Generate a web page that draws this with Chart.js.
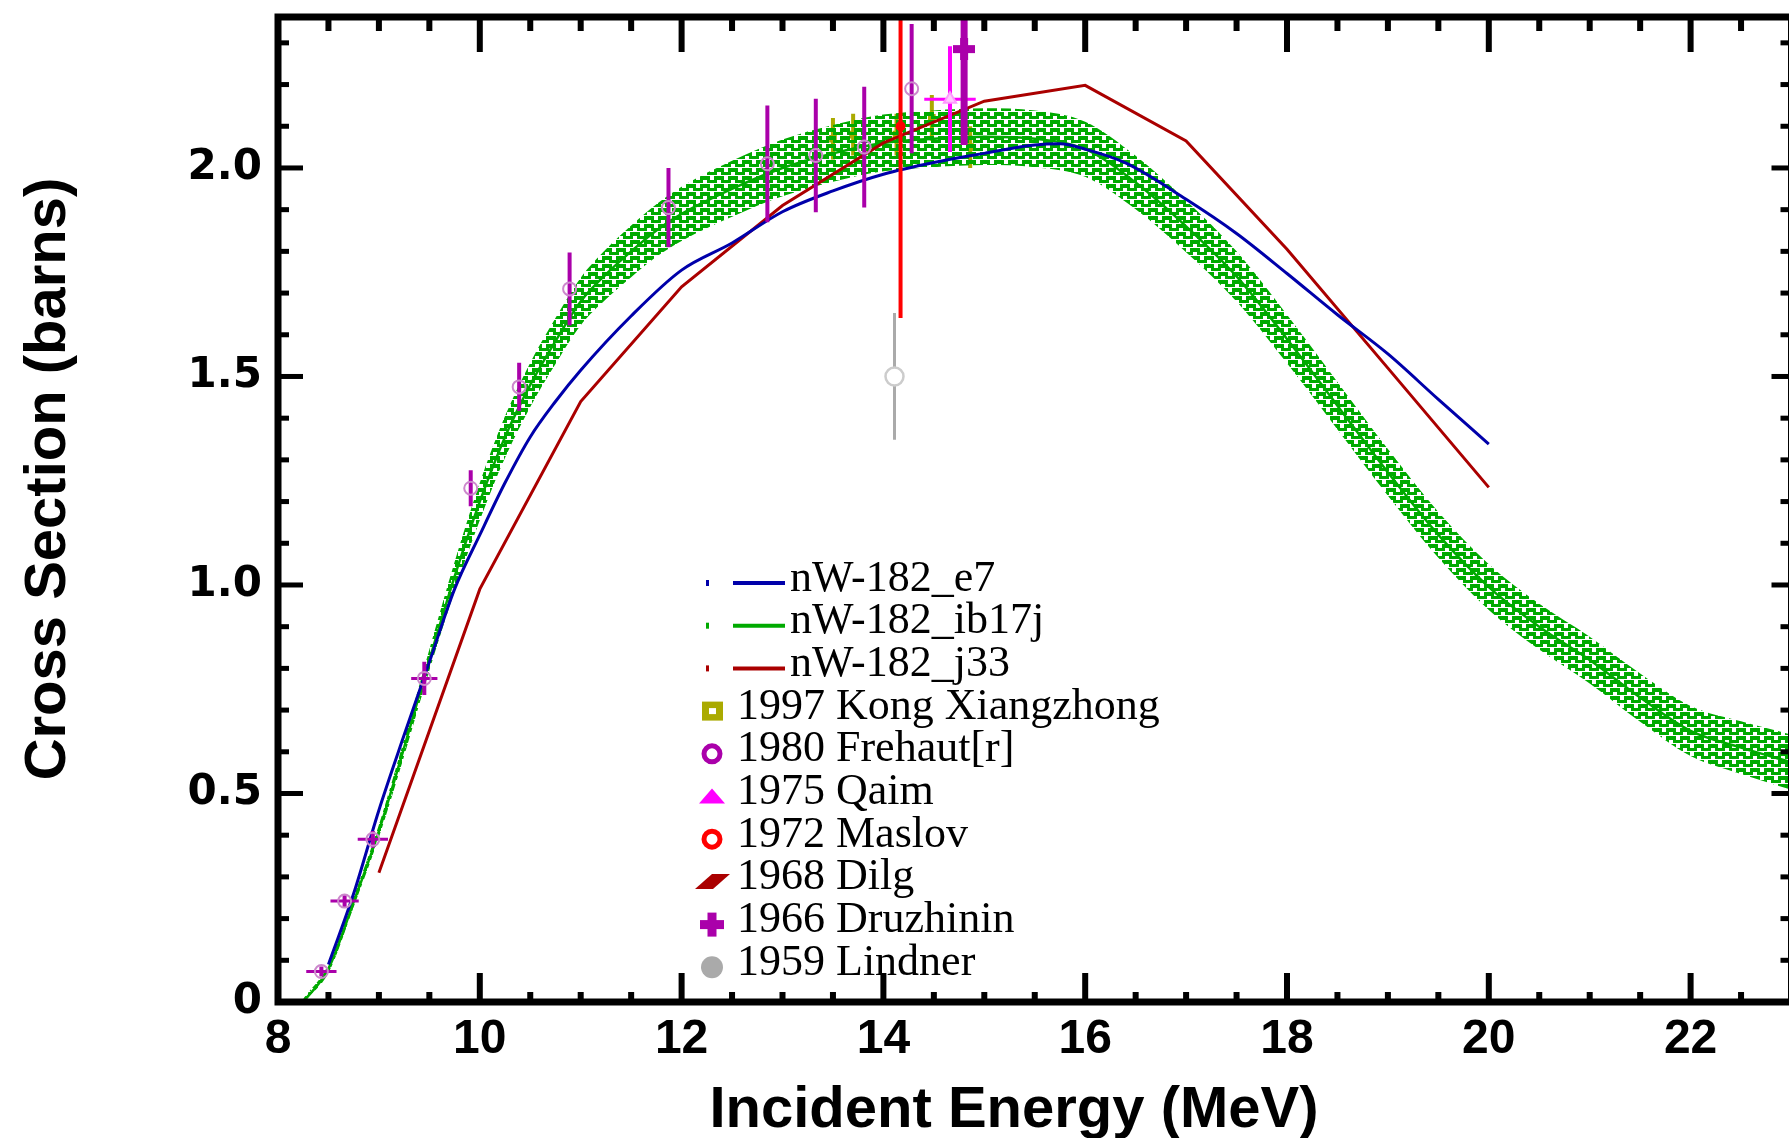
<!DOCTYPE html>
<html>
<head>
<meta charset="utf-8">
<title>nW-182 cross section</title>
<script src="https://cdn.jsdelivr.net/npm/chart.js@4.4.0/dist/chart.umd.min.js"></script>
<style>
  html, body { margin: 0; padding: 0; background: #fff; overflow: hidden; }
  #wrap { width: 1803px; height: 1138px; }
</style>
</head>
<body>
<div id="wrap"><canvas id="myChart" width="1803" height="1138"></canvas></div>
<script>
// evaluated curves (MeV, barns)
const bandEnergy = [8.25, 8.5, 8.75, 9.0, 9.25, 9.5, 9.75, 10.0, 10.25, 10.5, 10.75, 11.0, 11.25, 11.5, 11.75, 12.0, 12.5, 13.0, 13.5, 14.0, 14.5, 15.0, 15.5, 16.0, 16.5, 17.0, 17.5, 18.0, 18.5, 19.0, 19.5, 20.0, 20.5, 21.0, 21.5, 22.0, 22.5, 23.0];
const ib17jMid  = [0.00, 0.08, 0.24, 0.41, 0.61, 0.82, 1.02, 1.20, 1.355, 1.48, 1.585, 1.68, 1.745, 1.80, 1.85, 1.89, 1.95, 2.00, 2.035, 2.06, 2.07, 2.075, 2.07, 2.045, 1.965, 1.86, 1.74, 1.59, 1.43, 1.27, 1.12, 0.995, 0.90, 0.82, 0.73, 0.65, 0.61, 0.575];
const ib17jHigh = [0.008, 0.09, 0.252, 0.425, 0.63, 0.845, 1.055, 1.245, 1.405, 1.533, 1.64, 1.737, 1.805, 1.862, 1.913, 1.955, 2.017, 2.068, 2.103, 2.128, 2.138, 2.143, 2.138, 2.111, 2.029, 1.922, 1.80, 1.648, 1.487, 1.326, 1.175, 1.05, 0.955, 0.876, 0.788, 0.71, 0.673, 0.641];
const ib17jLow  = [0.0, 0.07, 0.228, 0.395, 0.59, 0.795, 0.985, 1.155, 1.305, 1.427, 1.53, 1.623, 1.685, 1.738, 1.787, 1.825, 1.883, 1.932, 1.967, 1.992, 2.002, 2.007, 2.002, 1.979, 1.901, 1.798, 1.68, 1.532, 1.373, 1.214, 1.065, 0.94, 0.845, 0.764, 0.672, 0.59, 0.547, 0.509];

const e7Energy = [8.5, 8.75, 9.0, 9.25, 9.5, 9.75, 10.0, 10.25, 10.5, 10.75, 11.0, 11.5, 12.0, 12.5, 13.0, 13.5, 14.0, 14.5, 15.0, 15.5, 15.75, 16.0, 16.4, 17.0, 17.5, 18.0, 18.5, 19.0, 19.5, 20.0];
const e7XS     = [0.09, 0.26, 0.46, 0.64, 0.815, 0.99, 1.12, 1.245, 1.355, 1.44, 1.515, 1.645, 1.755, 1.82, 1.895, 1.945, 1.985, 2.013, 2.035, 2.055, 2.058, 2.045, 2.012, 1.925, 1.843, 1.747, 1.648, 1.554, 1.445, 1.338];

const j33Energy = [9, 10, 11, 12, 13, 14, 15, 16, 17, 18, 19, 20];
const j33XS     = [0.31, 0.99, 1.44, 1.715, 1.91, 2.06, 2.16, 2.198, 2.065, 1.805, 1.52, 1.234];

// experimental points: energy, cross section, +-dE, +-dXS
const kongE  = [13.5, 13.7, 14.13, 14.48, 14.86];
const kongXS = [2.07, 2.08, 2.08, 2.12, 2.05];
const kongDY = [0.05, 0.05, 0.05, 0.055, 0.05];

const frehautE  = [8.43, 8.66, 8.94, 9.45, 9.91, 10.39, 10.89, 11.87, 12.85, 13.33, 13.81, 14.28];
const frehautXS = [0.073, 0.242, 0.39, 0.776, 1.232, 1.475, 1.71, 1.905, 2.01, 2.03, 2.05, 2.19];
const frehautDX = [0.15, 0.14, 0.15, 0.13, 0, 0, 0, 0, 0, 0, 0, 0];
const frehautDY = [0.012, 0.014, 0.02, 0.04, 0.043, 0.058, 0.087, 0.095, 0.14, 0.136, 0.145, 0.155];

const qaimE = [14.66], qaimXS = [2.165], qaimDX = [0.255], qaimDY = [0.127];
const maslovE = [14.17], maslovXS = [2.10], maslovDY = [0.46];
const dilgE = [], dilgXS = [];
const druzhininE = [14.8], druzhininXS = [2.285], druzhininDY = [0.23];
const lindnerE = [14.11], lindnerXS = [1.50], lindnerDY = [0.152];

const legendLabels = ['nW-182_e7', 'nW-182_ib17j', 'nW-182_j33', '1997 Kong Xiangzhong', '1980 Frehaut[r]',
  '1975 Qaim', '1972 Maslov', '1968 Dilg', '1966 Druzhinin', '1959 Lindner'];

function pts(xs, ys, dxs, dys) {
  return xs.map((x, i) => ({ x: x, y: ys[i], dx: dxs ? dxs[i] : 0, dy: dys ? dys[i] : 0 }));
}

const canvas = document.getElementById('myChart');
const ctx0 = canvas.getContext('2d');

// hatch used for the ib17j uncertainty band
const tile = document.createElement('canvas');
tile.width = 14; tile.height = 8;
const tg = tile.getContext('2d');
tg.fillStyle = '#00aa00';
tg.fillRect(0, 0, 10, 4);
tg.fillRect(7, 4, 7, 3);
tg.fillRect(0, 4, 3, 3);
const hatch = ctx0.createPattern(tile, 'repeat');

// filled plus for Druzhinin
const plus = document.createElement('canvas');
plus.width = 22; plus.height = 22;
const pg = plus.getContext('2d');
pg.fillStyle = '#aa00aa';
pg.fillRect(7, 0, 8, 22);
pg.fillRect(0, 7, 22, 8);

function drawMarker(ctx, style, color, x, y) {
  ctx.save();
  ctx.fillStyle = color; ctx.strokeStyle = color;
  if (style === 'square') {
    ctx.fillRect(x - 10, y - 9.5, 21, 19);
    ctx.fillStyle = '#fff'; ctx.fillRect(x - 3, y - 3, 7, 6);
  } else if (style === 'ring') {
    ctx.lineWidth = 5; ctx.beginPath(); ctx.arc(x, y, 8, 0, Math.PI * 2); ctx.stroke();
  } else if (style === 'triangle') {
    ctx.beginPath(); ctx.moveTo(x - 13, y + 7); ctx.lineTo(x + 13, y + 7); ctx.lineTo(x, y - 8); ctx.closePath(); ctx.fill();
  } else if (style === 'para') {
    ctx.beginPath(); ctx.moveTo(x - 17, y + 7); ctx.lineTo(x + 1, y + 7); ctx.lineTo(x + 18, y - 8); ctx.lineTo(x, y - 8); ctx.closePath(); ctx.fill();
  } else if (style === 'plus') {
    ctx.fillRect(x - 4.5, y - 12, 9, 24); ctx.fillRect(x - 12, y - 4.5, 24, 9);
  } else if (style === 'blob') {
    ctx.beginPath(); ctx.arc(x, y, 11, 0, Math.PI * 2); ctx.fill();
  }
  ctx.restore();
}

const errorBars = {
  id: 'errorBars',
  beforeDatasetDraw(chart, args) {
    const ds = chart.data.datasets[args.index];
    if (!ds.errColor) return;
    const { ctx, chartArea: a, scales: { x, y } } = chart;
    ctx.save();
    ctx.beginPath(); ctx.rect(a.left, a.top, a.right - a.left, a.bottom - a.top); ctx.clip();
    ctx.strokeStyle = ds.errColor;
    ds.data.forEach(p => {
      const px = x.getPixelForValue(p.x), py = y.getPixelForValue(p.y);
      if (p.dy) {
        ctx.lineWidth = ds.errWidth;
        ctx.beginPath(); ctx.moveTo(px, y.getPixelForValue(p.y - p.dy)); ctx.lineTo(px, y.getPixelForValue(p.y + p.dy)); ctx.stroke();
      }
      if (p.dx) {
        ctx.lineWidth = 3;
        ctx.beginPath(); ctx.moveTo(x.getPixelForValue(p.x - p.dx), py); ctx.lineTo(x.getPixelForValue(p.x + p.dx), py); ctx.stroke();
      }
    });
    ctx.restore();
  }
};

const frameAndTicks = {
  id: 'frameAndTicks',
  afterDatasetsDraw(chart) {
    const { ctx, chartArea: a, scales: { x, y } } = chart;
    ctx.save();
    ctx.fillStyle = '#000';
    x.ticks.forEach(t => {
      const px = x.getPixelForValue(t.value);
      const major = Math.round(t.value * 2) % 4 === 0;
      ctx.fillRect(px - 3, a.bottom - (major ? 29 : 10), 6, major ? 29 : 10);
      ctx.fillRect(px - 3, a.top, 6, major ? 35 : 14);
    });
    y.ticks.forEach(t => {
      const py = y.getPixelForValue(t.value);
      const major = Math.round(t.value * 10) % 5 === 0;
      ctx.fillRect(a.left, py - 2.5, major ? 25 : 11, 5);
      ctx.fillRect(a.right - (major ? 20 : 11), py - 2.5, major ? 20 : 11, 5);
    });
    ctx.strokeStyle = '#000';
    ctx.lineWidth = 7;
    ctx.strokeRect(a.left, a.top, a.right - a.left, a.bottom - a.top);
    ctx.restore();
  }
};

const titlesAndLegend = {
  id: 'titlesAndLegend',
  afterDraw(chart) {
    const ctx = chart.ctx;
    ctx.save();
    ctx.fillStyle = '#000';
    ctx.font = 'bold 58px "Liberation Sans", Arial, sans-serif';
    ctx.textAlign = 'center';
    ctx.textBaseline = 'alphabetic';
    ctx.fillText('Incident Energy (MeV)', 1014, 1127);
    ctx.save();
    ctx.translate(65, 479);
    ctx.rotate(-Math.PI / 2);
    ctx.fillText('Cross Section (barns)', 0, 0);
    ctx.restore();

    ctx.font = '44px "Liberation Serif", "Times New Roman", serif';
    ctx.textAlign = 'left';
    ctx.textBaseline = 'middle';
    legendLabels.forEach((label, i) => {
      const ds = chart.data.datasets.find(d => d.label === label);
      const ty = 579 + i * 42.7, my = ty + 4;
      if (ds.legendStyle === 'line') {
        ctx.fillStyle = ds.borderColor;
        ctx.fillRect(706, my - 3, 3, 6);
        ctx.strokeStyle = ds.borderColor;
        ctx.lineWidth = 4;
        ctx.beginPath(); ctx.moveTo(733, my); ctx.lineTo(785, my); ctx.stroke();
        ctx.fillStyle = '#000';
        ctx.fillText(label, 790, ty);
      } else {
        drawMarker(ctx, ds.legendStyle, ds.legendColor, 712, my);
        ctx.fillStyle = '#000';
        ctx.fillText(label, 737, ty);
      }
    });
    ctx.restore();
  }
};

const lineBase = { showLine: true, pointRadius: 0, fill: false, legendStyle: 'line' };
const markBase = { showLine: false, borderWidth: 2 };

new Chart(canvas, {
  type: 'line',
  data: {
    datasets: [
      Object.assign({}, lineBase, { label: 'nW-182_e7', data: pts(e7Energy, e7XS), borderColor: '#0000aa', borderWidth: 3, cubicInterpolationMode: 'monotone', order: 2 }),
      Object.assign({}, lineBase, { label: 'nW-182_j33', data: pts(j33Energy, j33XS), borderColor: '#aa0000', borderWidth: 3, order: 3 }),
      { label: 'ib17j upper', data: pts(bandEnergy, ib17jHigh), showLine: true, pointRadius: 0, borderWidth: 0, borderColor: 'rgba(0,0,0,0)', cubicInterpolationMode: 'monotone', fill: false, order: 6 },
      { label: 'ib17j lower', data: pts(bandEnergy, ib17jLow), showLine: true, pointRadius: 0, borderWidth: 0, borderColor: 'rgba(0,0,0,0)', cubicInterpolationMode: 'monotone', fill: '-1', backgroundColor: hatch, order: 6 },
      Object.assign({}, lineBase, { label: 'nW-182_ib17j', data: pts(bandEnergy, ib17jMid), borderColor: '#00aa00', borderWidth: 2.5, cubicInterpolationMode: 'monotone', order: 7 }),
      Object.assign({}, markBase, { label: '1997 Kong Xiangzhong', data: pts(kongE, kongXS, null, kongDY), pointStyle: 'rect', pointRadius: 4, borderColor: '#aaaa00', backgroundColor: '#aaaa00', errColor: '#aaaa00', errWidth: 4, legendStyle: 'square', legendColor: '#aaaa00', order: 8 }),
      Object.assign({}, markBase, { label: '1968 Dilg', data: pts(dilgE, dilgXS), pointRadius: 5, borderColor: '#aa0000', legendStyle: 'para', legendColor: '#aa0000', order: 8 }),
      Object.assign({}, markBase, { label: '1972 Maslov', data: pts(maslovE, maslovXS, null, maslovDY), pointRadius: 4, borderColor: '#ff0000', backgroundColor: '#ff0000', errColor: '#ff0000', errWidth: 4, legendStyle: 'ring', legendColor: '#ff0000', order: 1 }),
      Object.assign({}, markBase, { label: '1980 Frehaut[r]', data: pts(frehautE, frehautXS, frehautDX, frehautDY), pointRadius: 6.5, borderColor: '#cc88cc', backgroundColor: 'rgba(255,255,255,0)', errColor: '#aa00aa', errWidth: 4, legendStyle: 'ring', legendColor: '#aa00aa', order: 1 }),
      Object.assign({}, markBase, { label: '1975 Qaim', data: pts(qaimE, qaimXS, qaimDX, qaimDY), pointStyle: 'triangle', pointRadius: 7, borderColor: '#ff99ff', backgroundColor: '#ffccff', errColor: '#ff00ff', errWidth: 4, legendStyle: 'triangle', legendColor: '#ff00ff', order: 1 }),
      Object.assign({}, markBase, { label: '1959 Lindner', data: pts(lindnerE, lindnerXS, null, lindnerDY), pointRadius: 9, borderWidth: 2.5, borderColor: '#cccccc', backgroundColor: '#ffffff', errColor: '#aaaaaa', errWidth: 3, legendStyle: 'blob', legendColor: '#aaaaaa', order: 1 }),
      Object.assign({}, markBase, { label: '1966 Druzhinin', data: pts(druzhininE, druzhininXS, null, druzhininDY), pointStyle: plus, errColor: '#aa00aa', errWidth: 7, legendStyle: 'plus', legendColor: '#aa00aa', order: 0 })
    ]
  },
  options: {
    responsive: false,
    animation: false,
    layout: { padding: { left: 0, top: 17, right: 1, bottom: 0 } },
    plugins: { legend: { display: false }, tooltip: { enabled: false } },
    scales: {
      x: {
        type: 'linear', min: 8, max: 23,
        grid: { display: false, drawTicks: false },
        border: { display: false },
        ticks: {
          stepSize: 0.5, autoSkip: false, maxRotation: 0, includeBounds: false, padding: 9, color: '#000',
          font: { family: '"Liberation Sans", Arial, sans-serif', size: 48, weight: 'bold' },
          callback: v => (Math.round(v * 2) % 4 === 0 ? String(Math.round(v)) : '')
        },
        afterFit: s => { s.height = 136; s.paddingLeft = 0; s.paddingRight = 0; }
      },
      y: {
        type: 'linear', min: 0, max: 2.362,
        grid: { display: false, drawTicks: false },
        border: { display: false },
        ticks: {
          stepSize: 0.1, autoSkip: false, includeBounds: false, padding: 16, color: '#000',
          font: { family: '"DejaVu Sans", sans-serif', size: 42, weight: 'bold' },
          callback: v => { const r = Math.round(v * 10); return r % 5 !== 0 ? '' : (r === 0 ? '0' : (r / 10).toFixed(1)); }
        },
        afterFit: s => { s.width = 278; s.paddingTop = 0; s.paddingBottom = 0; }
      }
    }
  },
  plugins: [errorBars, frameAndTicks, titlesAndLegend]
});
</script>
</body>
</html>
